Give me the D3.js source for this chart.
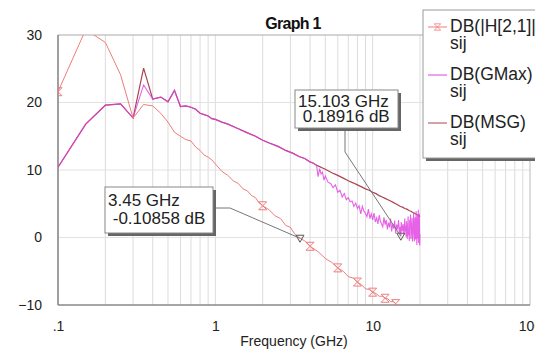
<!DOCTYPE html>
<html><head><meta charset="utf-8">
<script src="https://cdn.jsdelivr.net/npm/d3@7"></script>
<style>
body{margin:0;background:#fff;overflow:hidden;}
text{font-family:"Liberation Sans",Arial,sans-serif;}
</style></head><body>
<svg id="c" width="535" height="355"></svg>
<script>
// ---------- DATA ----------
const h21Freq = [0.1,0.15,0.2,0.25,0.3,0.35,0.4,0.45,0.5,0.55,0.6,0.65,0.7,0.75,0.8,0.85,0.9,0.95,1.0,
  1.1,1.2,1.3,1.4,1.5,1.6,1.7,1.8,1.9,2.0,
  2.2,2.4,2.6,2.8,3.0,3.2,
  3.45,3.7,4.0,
  4.5,5.0,5.5,6.0,6.5,7.0,7.5,8.0,8.5,9.0,9.5,10,10.5,11,11.5,12,12.5,13,13.5,14,14.5];
const h21DB = [21.6,30.8,28.9,24.1,17.7,19.7,19.5,18.4,17.1,15.6,15.0,14.5,14.3,13.4,12.9,12.2,11.9,11.5,10.9,
  9.8,9.2,8.4,8.0,7.2,6.9,6.2,5.9,5.1,4.7,
  4.1,3.2,2.8,1.8,1.5,0.5,
  -0.10858,-0.5,-1.3,
  -2.1,-3.1,-3.7,-4.5,-5.0,-5.8,-6.0,-6.6,-7.0,-7.6,-7.7,-8.1,-8.3,-8.7,-8.7,-9.0,-9.1,-9.5,-9.5,-9.8,-10.2];
const h21MarkerFreq = [0.1,2,4,6,8,10,12,14];

const gainFreq = [0.1,0.15,0.2,0.25,0.3,0.35,0.4,0.45,0.5,0.55,0.6,0.65,0.7,0.75,0.8,0.85,0.9,0.95,1.0,
  1.1,1.2,1.4,1.6,1.8,2.0,2.2,2.5,2.8,3.1,3.4,3.7,4.0,4.2,4.4];
const gmaxLowDB = [10.4,16.8,19.6,19.8,17.7,22.6,20.5,20.8,20.1,21.8,19.4,19.5,19.3,19.0,18.4,18.2,18.0,17.6,17.5,
  17.1,16.8,16.1,15.5,15.0,14.4,14.0,13.5,12.9,12.5,12.0,11.7,11.2,11.0,10.7];
const msgLowDB = [10.4,16.8,19.6,19.8,17.7,25.1,20.5,20.8,20.1,21.8,19.4,19.5,19.3,19.0,18.4,18.2,18.0,17.6,17.5,
  17.1,16.8,16.1,15.5,15.0,14.4,14.0,13.5,12.9,12.5,12.0,11.7,11.2,11.0,10.7];

const gmaxHiFreq = [4.5,4.6,4.7,4.8,4.9,5.0,5.2,5.4,5.6,5.8,
  6.0,6.2,6.4,6.6,6.8,7.0,7.2,7.4,7.6,7.8,
  8.0,8.2,8.4,8.6,8.8,9.0,9.2,9.4,9.6,9.8,
  10.0,10.2,10.4,10.6,10.8,11.0,11.2,11.4,11.6,11.8,
  12.0,12.2,12.4,12.6,12.8,13.0,13.2,13.4,13.6,13.8,
  14.0,14.2,14.4,14.6,14.8,15.0,15.103,15.2,15.4,15.6,
  15.8,16.0,16.1,16.2,16.3,16.4,16.5,16.6,16.7,16.8,
  16.9,17.0,17.1,17.2,17.3,17.4,17.5,17.6,17.7,17.8,
  17.9,18.0,18.1,18.2,18.3,18.4,18.5,18.6,18.7,18.8,
  18.9,19.0,19.1,19.2,19.3,19.4,19.5,19.6,19.7,19.8,
  19.9,20.0];
const gmaxHiDB = [9.0,10.2,9.4,9.7,8.5,9.1,8.2,8.0,7.4,7.8,
  6.7,7.0,6.0,6.5,5.6,5.9,5.3,5.4,4.6,5.1,
  4.3,4.7,3.5,4.6,3.9,3.6,3.1,4.2,2.8,3.5,
  2.6,3.6,2.3,2.9,2.0,3.3,2.4,2.0,1.6,3.0,
  1.9,2.6,1.2,2.2,1.5,2.8,0.9,2.0,1.3,2.5,
  0.6,1.9,1.2,2.6,0.7,1.6,0.18916,2.3,0.9,2.0,
  0.4,2.8,0.9,1.7,0.1,2.4,1.0,-0.2,1.6,3.1,
  0.3,1.1,-0.5,2.6,1.4,3.4,-0.2,0.8,1.9,2.9,
  -0.6,1.5,0.6,3.7,0.2,-0.6,2.0,3.0,-0.3,1.2,
  3.9,0.4,-1.1,2.2,3.3,-0.2,4.1,-0.8,1.0,3.5,
  -1.2,0.5];

const msgHiFreq = [4.6,4.8,5.0,5.5,6.0,6.5,7.0,7.5,8.0,8.5,9.0,9.5,10,10.5,11,11.5,12,12.5,13,13.5,14,14.5,15,15.5,16,16.5,17,17.5,18,18.5,19,19.5,20];
const msgHiDB = [10.5,10.3,10.1,9.6,9.2,8.8,8.4,8.1,7.8,7.5,7.2,7.0,6.7,6.5,6.2,6.0,5.8,5.6,5.4,5.2,5.0,4.8,4.6,4.5,4.3,4.2,4.0,3.9,3.7,3.6,3.4,3.3,3.1];

const markerFreq = [3.45, 15.103];
const markerDB = [-0.10858, 0.18916];

const yTicks = [-10,0,10,20,30];
const xTicks = [0.1,1,10,100];
const xTickLabels = [".1","1","10","100"];
const legendNames = ["DB(|H[2,1]|)","DB(GMax)","DB(MSG)"];
const legendSub = ["sij","sij","sij"];
const chartTitle = "Graph 1";
const xTitle = "Frequency (GHz)";

// ---------- DRAW ----------
const svg = d3.select('#c');
const L=58,R=530,T=35,B=305;
const x = d3.scaleLog().domain([0.1,100]).range([L,R]);
const y = d3.scaleLinear().domain([-10,30]).range([B,T]);

svg.append('rect').attr('width',535).attr('height',355).attr('fill','#fff');
svg.append('defs').append('clipPath').attr('id','clip')
  .append('rect').attr('x',L).attr('y',T).attr('width',R-L).attr('height',B-T);

// grid
svg.append('g').selectAll('line').data(x.ticks().filter(d=>d>0.1 && d<100)).join('line')
  .attr('x1',d=>x(d)).attr('x2',d=>x(d)).attr('y1',T).attr('y2',B)
  .attr('stroke','#dcdcdc').attr('stroke-width',1);
svg.append('g').selectAll('line').data(yTicks.filter(d=>d>-10 && d<30)).join('line')
  .attr('x1',L).attr('x2',R).attr('y1',d=>y(d)).attr('y2',d=>y(d))
  .attr('stroke','#e2e2e2').attr('stroke-width',1);

// frame
svg.append('line').attr('x1',L).attr('x2',R).attr('y1',T).attr('y2',T).attr('stroke','#aaa');
svg.append('line').attr('x1',R).attr('x2',R).attr('y1',T).attr('y2',B).attr('stroke','#bbb');

// axes
const ya = svg.append('g').attr('transform',`translate(${L},0)`)
  .call(d3.axisLeft(y).tickValues(yTicks).tickSize(0).tickPadding(16));
ya.select('.domain').remove();
ya.selectAll('text').attr('font-size',14).attr('fill','#222').attr('font-family','"Liberation Sans",Arial,sans-serif');
const xa = svg.append('g').attr('transform',`translate(0,${B})`)
  .call(d3.axisBottom(x).tickValues(xTicks).tickSize(0).tickPadding(16).tickFormat((d,i)=>xTickLabels[i]));
xa.select('.domain').remove();
xa.selectAll('text').attr('font-size',14).attr('fill','#222').attr('font-family','"Liberation Sans",Arial,sans-serif');

svg.append('line').attr('x1',L).attr('x2',L).attr('y1',T).attr('y2',B).attr('stroke','#888').attr('stroke-width',1.6);
svg.append('line').attr('x1',L).attr('x2',R).attr('y1',B).attr('y2',B).attr('stroke','#888').attr('stroke-width',1.6);

const line = d3.line().x(d=>x(d[0])).y(d=>y(d[1]));
const plot = svg.append('g').attr('clip-path','url(#clip)');

const h21 = d3.zip(h21Freq,h21DB);
const msg = d3.zip(gainFreq,msgLowDB).concat(d3.zip(msgHiFreq,msgHiDB));
const gmax = d3.zip(gainFreq,gmaxLowDB).concat(d3.zip(gmaxHiFreq,gmaxHiDB));

const cH21='#f07c7c', cGmax='#e040e0', cMsg='#a84452';
plot.append('path').datum(msg).attr('d',line).attr('fill','none').attr('stroke',cMsg).attr('stroke-width',1.2);
plot.append('path').datum(gmax).attr('d',line).attr('fill','none').attr('stroke',cGmax).attr('stroke-width',1.1).attr('stroke-opacity',0.82);
plot.append('path').datum(h21).attr('d',line).attr('fill','none').attr('stroke',cH21).attr('stroke-width',1);

const hour = 'M-4,-4L4,-4L-4,4L4,4Z';
plot.selectAll('.hm').data(h21.filter(d=>h21MarkerFreq.includes(d[0]))).join('path')
  .attr('transform',d=>`translate(${x(d[0])},${y(d[1])})`).attr('d',hour)
  .attr('fill','none').attr('stroke',cH21).attr('stroke-width',1);

// marker triangles
const tri = 'M-4,-3L4,-3L0,4Z';
const mk = d3.zip(markerFreq,markerDB);
svg.selectAll('.mt').data(mk).join('path')
  .attr('transform',d=>`translate(${x(d[0])},${y(d[1])})`).attr('d',tri)
  .attr('fill','none').attr('stroke','#555').attr('stroke-width',1);

// marker boxes
const boxes = [
  {bx:105,by:187,bw:108,bh:46,t1y:206,t2y:224,lead:[[213,208],[230,208]]},
  {bx:295,by:90,bw:103,bh:38,t1y:107,t2y:122,lead:[[345,128],[345,152]]}
];
boxes.forEach((b,i)=>{
  const p = [x(markerFreq[i]), y(markerDB[i])];
  svg.append('path').attr('d',d3.line()(b.lead.concat([p]))).attr('fill','none').attr('stroke','#777').attr('stroke-width',1);
  svg.append('rect').attr('x',b.bx+3).attr('y',b.by+3).attr('width',b.bw).attr('height',b.bh).attr('fill','#666');
  svg.append('rect').attr('x',b.bx).attr('y',b.by).attr('width',b.bw).attr('height',b.bh).attr('fill','#fff').attr('stroke','#888');
  svg.append('text').attr('x',b.bx+3).attr('y',b.t1y).attr('font-size',17).attr('fill','#222')
    .text(`${markerFreq[i]} GHz`);
  svg.append('text').attr('x',b.bx+3).attr('y',b.t2y).attr('font-size',17).attr('fill','#222')
    .style('white-space','pre').text(` ${markerDB[i]} dB`);
});

// title
svg.append('text').attr('x',293).attr('y',29).attr('text-anchor','middle').attr('font-size',16)
  .attr('font-weight','bold').attr('letter-spacing',-0.7).attr('fill','#111').text(chartTitle);
svg.append('text').attr('x',294).attr('y',346).attr('text-anchor','middle').attr('font-size',14)
  .attr('fill','#222').text(xTitle);

// legend
svg.append('rect').attr('x',426).attr('y',13).attr('width',140).attr('height',148).attr('fill','#666');
svg.append('rect').attr('x',423).attr('y',10).attr('width',140).attr('height',148).attr('fill','#fff').attr('stroke','#999');
const legCols = [cH21,cGmax,cMsg];
const legY = [27,75,123];
legendNames.forEach((n,i)=>{
  svg.append('line').attr('x1',428).attr('x2',447).attr('y1',legY[i]).attr('y2',legY[i]).attr('stroke',legCols[i]).attr('stroke-width',1);
  if(i===0) svg.append('path').attr('transform',`translate(437.5,${legY[i]}) scale(0.8)`).attr('d',hour)
    .attr('fill','none').attr('stroke',cH21);
  svg.append('text').attr('x',450).attr('y',legY[i]+5).attr('font-size',17.5).attr('fill','#222').text(n);
  svg.append('text').attr('x',450).attr('y',legY[i]+22).attr('font-size',17.5).attr('fill','#222').text(legendSub[i]);
});
</script>
</body></html>
